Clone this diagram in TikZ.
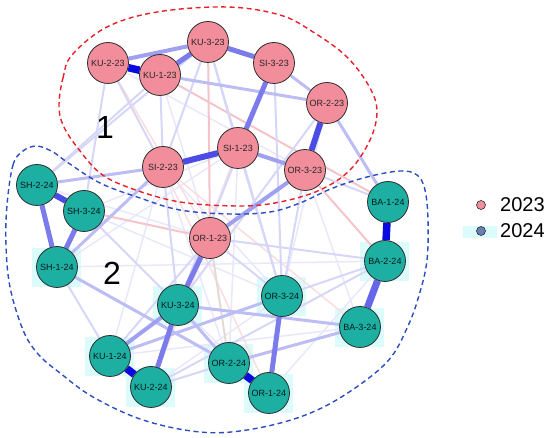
\documentclass[tikz,border=0pt]{standalone}
\usepackage{fontspec}
\setmainfont{Liberation Sans}
\usetikzlibrary{backgrounds}
\definecolor{pinknode}{HTML}{F28E9C}
\definecolor{tealnode}{HTML}{1EAFA3}
\definecolor{haloc}{HTML}{DCFCFC}
\definecolor{ringc}{HTML}{2E2E2E}
\definecolor{c1}{HTML}{0A0AE0}
\definecolor{c2}{HTML}{4B4BE6}
\definecolor{c3}{HTML}{7B7BEB}
\definecolor{c4}{HTML}{A0A0F1}
\definecolor{c5}{HTML}{BDBDF5}
\definecolor{c6}{HTML}{D6D6F8}
\definecolor{c7}{HTML}{E8E8FB}
\definecolor{p1c}{HTML}{F5C4CB}
\definecolor{p2c}{HTML}{F9DDE1}
\definecolor{tanc}{HTML}{E3DAD3}
\definecolor{redline}{HTML}{E8202A}
\definecolor{blueline}{HTML}{2B4DC0}
\definecolor{legblue}{HTML}{6A80B2}
\pgfdeclarelayer{halo}
\pgfdeclarelayer{edges}
\pgfsetlayers{halo,edges,main}
\begin{document}
\begin{tikzpicture}[x=1pt,y=-1pt,
  vnode/.style={circle,draw=ringc,line width=0.8pt,minimum size=41pt,inner sep=0pt,
    font=\fontsize{9}{10}\selectfont},
  n23/.style={vnode,fill=pinknode,text=black!85},
  n24/.style={vnode,fill=tealnode,text=black!80!teal},
  e1/.style={c1,line width=7.5pt},
  e2/.style={c2,line width=6pt},
  e3/.style={c3,line width=5pt},
  e4/.style={c4,line width=4pt},
  e5/.style={c5,line width=3pt},
  e6/.style={c6,line width=2pt},
  e7/.style={c7,line width=1.5pt},
  p1/.style={p1c,line width=2pt},
  p2/.style={p2c,line width=1.5pt},
  tanedge/.style={tanc,line width=2pt},
  groupline/.style={line width=1.4pt,dash pattern=on 5pt off 3.5pt},
  biglabel/.style={font=\fontsize{32}{34}\selectfont,inner sep=0pt},
  legtext/.style={font=\fontsize{20}{22}\selectfont,anchor=west,inner sep=0pt},
  legdot/.style={circle,draw=ringc,line width=0.6pt,minimum size=9pt,inner sep=0pt}
]
\useasboundingbox (0,0) rectangle (550,438);

% nodes 2023
\node[n23] (KU223) at (108,63) {KU-2-23};
\node[n23] (KU123) at (160,75) {KU-1-23};
\node[n23] (KU323) at (208,42) {KU-3-23};
\node[n23] (SI323) at (274,63) {SI-3-23};
\node[n23] (OR223) at (327,103) {OR-2-23};
\node[n23] (SI123) at (238,148) {SI-1-23};
\node[n23] (SI223) at (163,167) {SI-2-23};
\node[n23] (OR323) at (305,170) {OR-3-23};
\node[n23] (OR123) at (210,238) {OR-1-23};
% nodes 2024
\node[n24] (SH224) at (37,185) {SH-2-24};
\node[n24] (SH324) at (84,211) {SH-3-24};
\node[n24] (SH124) at (57,267) {SH-1-24};
\node[n24] (KU324) at (178,305) {KU-3-24};
\node[n24] (KU124) at (110,356) {KU-1-24};
\node[n24] (KU224) at (151,387) {KU-2-24};
\node[n24] (OR224) at (229,363) {OR-2-24};
\node[n24] (OR124) at (269,393) {OR-1-24};
\node[n24] (OR324) at (282,296) {OR-3-24};
\node[n24] (BA124) at (388,202) {BA-1-24};
\node[n24] (BA224) at (385,261) {BA-2-24};
\node[n24] (BA324) at (360,327) {BA-3-24};

% group labels
\node[biglabel] (g1) at (105,127) {1};
\node[biglabel] (g2) at (112,273) {2};

% legend
\node[legdot,fill=pinknode] (ld1) at (481,205) {};
\node[legtext] (lt1) at (500,205) {2023};
\node[legdot,fill=legblue] (ld2) at (481,231) {};
\node[legtext] (lt2) at (500,231) {2024};

\begin{pgfonlayer}{halo}
  \foreach \n in {SH124,KU324,KU124,KU224,OR224,OR124,OR324,BA224,BA324}
    \fill[haloc] ([xshift=-25pt,yshift=-20pt]\n.center) rectangle ([xshift=24pt,yshift=19pt]\n.center);
  \fill[haloc] ([xshift=-12pt,yshift=-20pt]SH324.center) rectangle ([xshift=12pt,yshift=-8pt]SH324.center);
  \fill[haloc] ([xshift=-18pt,yshift=-7pt]ld2.center) rectangle ([xshift=16pt,yshift=5pt]ld2.center);
\end{pgfonlayer}

\begin{pgfonlayer}{edges}
  % very faint
  \foreach \a/\b in {SH124/BA224,SI223/OR324,OR223/OR324,SH124/SI123,KU123/OR123,SI223/OR224,
      KU324/SI123,SH324/SI123,KU124/SI223,OR224/SI123,KU224/OR324,OR124/KU324,OR124/BA224,
      BA324/OR323,SH224/OR123,KU223/OR323,KU124/BA324,SH324/OR324}
    \draw[e7] (\a) -- (\b);
  \foreach \a/\b in {KU323/OR123,KU123/BA124,SH324/OR123,OR323/BA224}
    \draw[p1] (\a) -- (\b);
  \foreach \a/\b in {SI223/OR124,SI123/KU224,OR123/KU224,KU223/OR123,SI223/BA324}
    \draw[p2] (\a) -- (\b);
  \draw[tanedge] (OR123) -- (OR224);
  % faint
  \foreach \a/\b in {SH324/KU324,OR324/BA224,OR123/BA224,SI123/OR324,OR323/OR324,KU224/BA224,
      OR323/BA124,SH124/KU124,KU224/OR224,KU323/SI223,KU323/SI123,KU123/SI223,SI223/KU324,
      KU223/SH324,KU223/SI223,SH224/KU123,SH224/KU323,SI323/KU324,SI323/OR324,OR223/KU324,
      KU323/OR324,OR123/OR324,OR123/KU124}
    \draw[e6] (\a) -- (\b);
  % light
  \foreach \a/\b in {KU123/OR223,SI323/OR223,SH124/SI223,SH224/SI223,SH124/OR224,KU324/BA324,
      OR224/BA324,KU124/OR324,KU324/OR224,OR223/BA124}
    \draw[e5] (\a) -- (\b);
  % light-medium
  \foreach \a/\b in {SI123/OR323,OR323/OR123,KU324/KU124,KU223/KU323}
    \draw[e4] (\a) -- (\b);
  % medium
  \foreach \a/\b in {KU123/KU323,KU323/SI323,SH224/SH124,SH324/SH124,KU324/OR123,KU324/KU224,
      OR324/OR124,SI323/SI123}
    \draw[e3] (\a) -- (\b);
  % thick
  \foreach \a/\b in {SI123/SI223,OR323/OR223,SH224/SH324}
    \draw[e2] (\a) -- (\b);
  \draw[c2!85!white,line width=7pt] (BA224) -- (BA324);
  % very thick
  \foreach \a/\b in {KU223/KU123,BA124/BA224,KU124/KU224,OR224/OR124}
    \draw[e1] (\a) -- (\b);

  % group outlines
  \draw[groupline,redline] plot[smooth cycle,tension=0.6] coordinates {
    (59,105) (63,78) (72,55) (107,27) (157,12) (227,7) (280,15) (313,32) (347,57)
    (370,88) (377,112) (370,140) (350,170) (320,190) (280,202) (240,206) (180,202)
    (130,188) (100,173) (77,147) (63,125)};
  \draw[groupline,blueline] plot[smooth cycle,tension=0.6] coordinates {
    (7,205) (13,165) (23,151) (37,146) (53,152) (67,162) (100,183) (140,198) (180,210)
    (230,214) (270,212) (300,203) (333,188) (367,177) (400,171) (417,175) (425,190)
    (428,220) (427,260) (420,292) (408,326) (387,362) (343,396) (300,417) (247,430)
    (200,432) (143,420) (93,397) (60,373) (38,354) (23,330) (10,287) (6,245)};
\end{pgfonlayer}
\end{tikzpicture}
\end{document}
